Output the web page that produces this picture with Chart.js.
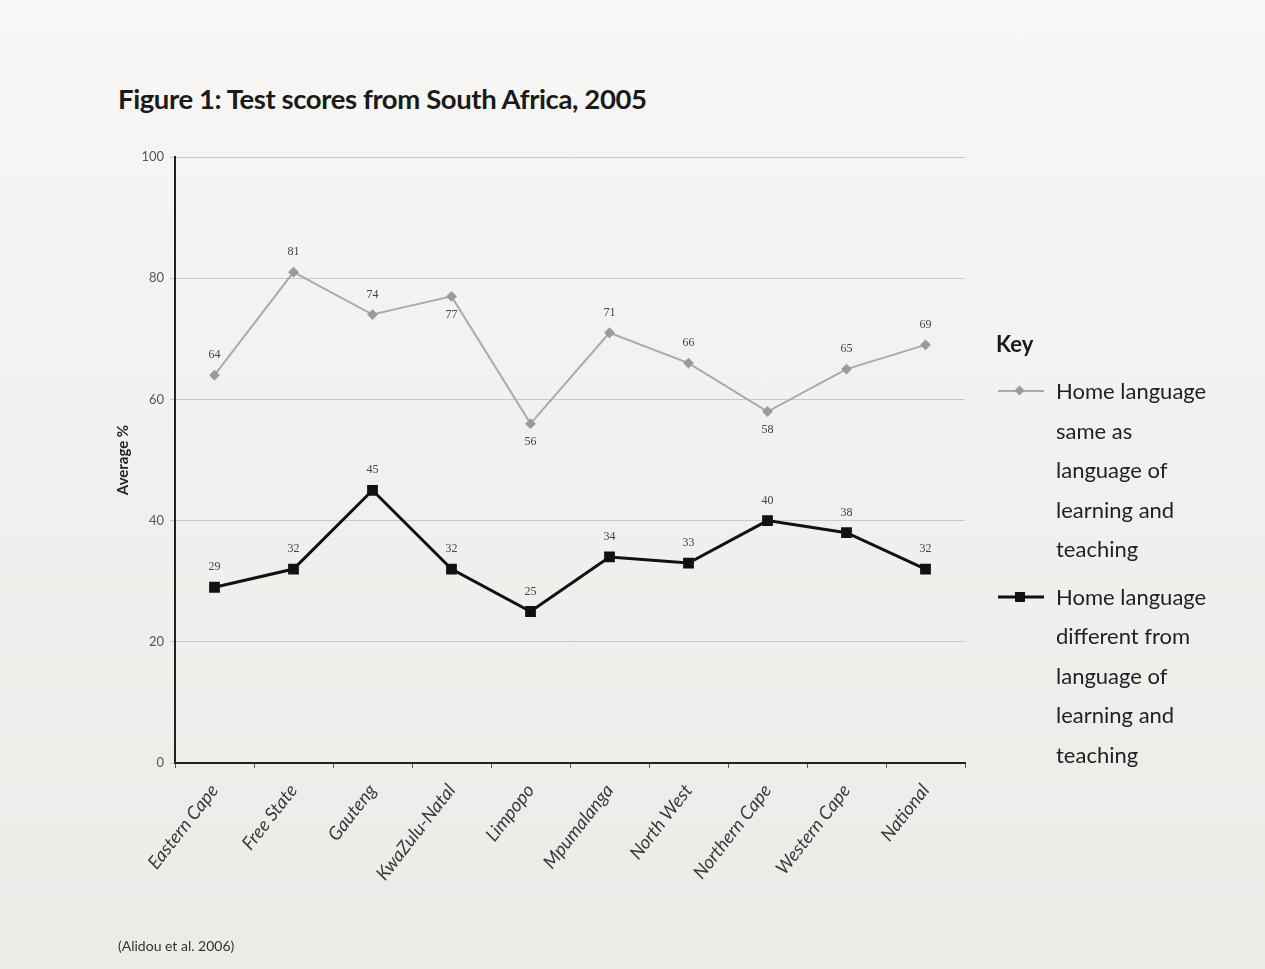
<!DOCTYPE html>
<html>
<head>
<meta charset="utf-8">
<script src="https://cdn.jsdelivr.net/npm/chart.js@4/dist/chart.umd.min.js"></script>
<style>
  html, body { margin:0; padding:0; }
  body { width:1265px; height:969px; position:relative; overflow:hidden;
         background: linear-gradient(180deg, #f7f7f6 0%, #f1f0ee 50%, #ecebe8 100%);
         font-family: Lato, "Open Sans", sans-serif; color:#1c1c1c; }
  #title { position:absolute; left:118px; top:82px; font-size:27.5px; font-weight:bold; letter-spacing:-0.4px; color:#1a1a1a; }
  #source { position:absolute; left:118px; top:937px; font-size:14px; color:#333; }
  canvas { position:absolute; left:0; top:0; }
  #legend { position:absolute; left:996px; top:330px; }
  #legend .key { font-size:22px; font-weight:bold; margin-bottom:14px; color:#1a1a1a; }
  #legend .item { position:relative; padding-left:60px; font-size:22px; line-height:39.5px; color:#222; margin-bottom:8px; }
  #legend svg { position:absolute; left:0; top:10px; }
</style>
</head>
<body>
<div id="title">Figure 1: Test scores from South Africa, 2005</div>
<canvas id="c" width="1265" height="969"></canvas>
<div id="legend"></div>
<div id="source">(Alidou et al. 2006)</div>
<script>
const categories = ["Eastern Cape","Free State","Gauteng","KwaZulu-Natal","Limpopo","Mpumalanga","North West","Northern Cape","Western Cape","National"];
const sameLanguage = [64, 81, 74, 77, 56, 71, 66, 58, 65, 69];
const differentLanguage = [29, 32, 45, 32, 25, 34, 33, 40, 38, 32];
const seriesNames = ["Home language same as language of learning and teaching",
                     "Home language different from language of learning and teaching"];
const legendLines = [["Home language","same as","language of","learning and","teaching"],
                     ["Home language","different from","language of","learning and","teaching"]];
const yTicks = [0, 20, 40, 60, 80, 100];

const valueLabels = {
  id: 'valueLabels',
  afterDatasetsDraw(chart, args, opts) {
    const ctx = chart.ctx;
    ctx.save();
    ctx.font = '12px "Liberation Serif", serif';
    ctx.fillStyle = '#444';
    ctx.textAlign = 'center';
    ctx.textBaseline = 'middle';
    chart.data.datasets.forEach((ds, di) => {
      const meta = chart.getDatasetMeta(di);
      const below = (opts.below && opts.below[di]) || [];
      meta.data.forEach((pt, i) => {
        const dy = below.includes(i) ? 18 : -20;
        ctx.fillText(String(ds.data[i]), pt.x, pt.y + dy);
      });
    });
    ctx.restore();
  }
};

const chart = new Chart(document.getElementById('c'), {
  type: 'line',
  data: {
    labels: categories,
    datasets: [
      { label: seriesNames[0], data: sameLanguage, borderColor: '#ababab', borderWidth: 2,
        pointStyle: 'rectRot', pointRadius: 4, pointBackgroundColor: '#9a9a9a', pointBorderColor: '#9a9a9a', tension: 0 },
      { label: seriesNames[1], data: differentLanguage, borderColor: '#111', borderWidth: 3,
        pointStyle: 'rect', pointRadius: 5.5, pointBackgroundColor: '#111', pointBorderColor: '#111', tension: 0 }
    ]
  },
  options: {
    responsive: false,
    animation: false,
    devicePixelRatio: 1,
    layout: { padding: { left: 100, right: 300, top: 157, bottom: 0 } },
    plugins: {
      legend: { display: false },
      tooltip: { enabled: false },
      valueLabels: { below: [[3, 4, 7], []] }
    },
    scales: {
      x: {
        offset: true,
        afterFit(s) { s.height = 206; },
        grid: { display: true, drawOnChartArea: false, tickLength: 5, color: '#555', offset: true },
        border: { color: '#222', width: 2 },
        ticks: { maxRotation: 52, minRotation: 52, padding: 12, color: '#3a3a3a',
                 font: { family: 'Lato', size: 18.5, style: 'italic' } }
      },
      y: {
        min: 0, max: 100,
        afterFit(s) { s.width = 75; },
        afterBuildTicks(s) { s.ticks = yTicks.map(v => ({ value: v })); },
        grid: { color: '#c9c9c9', lineWidth: 1, tickLength: 5 },
        border: { color: '#222', width: 2 },
        ticks: { padding: 6, color: '#555', font: { family: 'Lato', size: 13 } },
        title: { display: true, text: 'Average %', color: '#222', padding: { top: 14, bottom: 0 },
                 font: { family: 'Lato', size: 15, weight: 'bold' } }
      }
    }
  },
  plugins: [valueLabels]
});

// HTML legend built from the chart's datasets
const leg = document.getElementById('legend');
leg.innerHTML = '<div class="key">Key</div>';
chart.data.datasets.forEach((ds, i) => {
  const item = document.createElement('div');
  item.className = 'item';
  const marker = ds.pointStyle === 'rect'
    ? '<rect x="19" y="5" width="10" height="10" fill="' + ds.pointBackgroundColor + '"/>'
    : '<rect x="20" y="6" width="7" height="7" fill="' + ds.pointBackgroundColor + '" transform="rotate(45 23.5 9.5)"/>';
  item.innerHTML = '<svg width="50" height="20"><line x1="2" y1="10" x2="48" y2="10" stroke="' + ds.borderColor +
    '" stroke-width="' + ds.borderWidth + '"/>' + marker + '</svg>' + legendLines[i].join('<br>');
  leg.appendChild(item);
});
</script>
</body>
</html>
